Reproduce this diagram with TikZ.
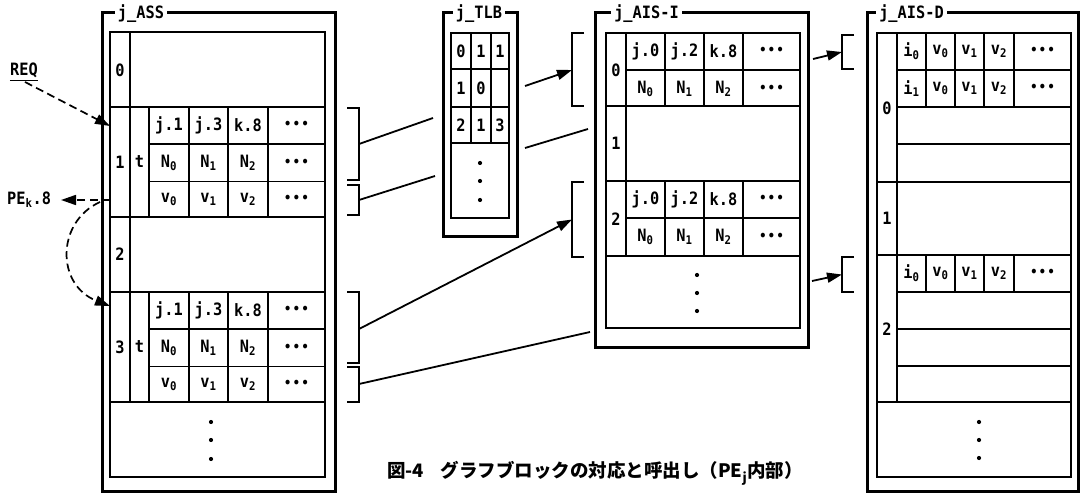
\documentclass[tikz,border=0pt]{standalone}
\usepackage{fontspec}
\setmainfont{DejaVu Sans Mono}[FakeStretch=0.9]
\newfontfamily\cjk{Noto Sans CJK JP}
\usetikzlibrary{arrows.meta}
\newcommand\sbs[1]{\textsubscript{#1}}
\newcommand\hdts{{\mdseries\fontsize{16}{16}\selectfont •••}}
\tikzset{
  outerframe/.style={line width=3pt, line join=miter},
  tbl/.style={line width=1.8pt},
  cellline/.style={line width=1.1pt},
  conn/.style={line width=1.8pt},
  dconn/.style={line width=1.7pt, dash pattern=on 8pt off 4.5pt},
  tip/.style={-{Triangle[length=15pt,width=10pt]}},
  txt/.style={inner sep=0pt, font=\bfseries\fontsize{17}{17}\selectfont},
  frlabel/.style={fill=white, inner sep=3pt, font=\bfseries\fontsize{17}{17}\selectfont},
  vdot/.style={circle, fill, inner sep=0pt, minimum size=4.2pt},
}
\begin{document}
\begin{tikzpicture}[x=1pt,y=-1pt]
\useasboundingbox (0,0) rectangle (1084,494);

% ---------------- j_ASS ----------------
\draw[outerframe] (102,13) rectangle (335,491);
\node[frlabel] (assL) at (141,14) {j\_ASS};
\draw[tbl] (110,32) rectangle (325,477);
\foreach \y in {107,217,292,402} \draw[tbl] (110,\y) -- (325,\y);
\draw[tbl] (130,32) -- (130,402);
\foreach \t in {107,292} {
  \draw[tbl] (149,\t) -- (149,{\t+110});
  \draw[cellline] (149,{\t+37}) -- (325,{\t+37});
  \draw[cellline] (149,{\t+74.5}) -- (325,{\t+74.5});
  \foreach \x in {189,228,268} \draw[cellline] (\x,\t) -- (\x,{\t+110});
}
\node[txt] (ass0) at (120,70) {0};
\node[txt] (ass1) at (120,162) {1};
\node[txt] (ass2) at (120,254) {2};
\node[txt] (ass3) at (120,347) {3};
\node[txt] (asst1) at (139.5,162) {t};
\node[txt] (asst3) at (139.5,347) {t};
\foreach \t/\r in {107/a,292/b} {
  \foreach \dy/\p/\q/\s [count=\k] in {18.5/j.1/j.3/k.8, 56/N\sbs{0}/N\sbs{1}/N\sbs{2}, 92.5/v\sbs{0}/v\sbs{1}/v\sbs{2}} {
    \node[txt] (ass\r\k-1) at (169,{\t+\dy}) {\p};
    \node[txt] (ass\r\k-2) at (208.5,{\t+\dy}) {\q};
    \node[txt] (ass\r\k-3) at (248,{\t+\dy}) {\s};
    \node[txt] (ass\r\k-4) at (296.5,{\t+\dy}) {\hdts};
  }
}
\foreach \y [count=\k] in {422,440,459} \node[vdot] (assdot\k) at (211,\y) {};

% brackets right of j_ASS
\draw[conn] (347,108) -- (359,108) -- (359,180) -- (347,180);
\draw[conn] (347,185) -- (359,185) -- (359,215) -- (347,215);
\draw[conn] (347,292) -- (359,292) -- (359,363) -- (347,363);
\draw[conn] (347,367) -- (359,367) -- (359,402) -- (347,402);
\coordinate (b1) at (359,144);
\coordinate (b2) at (359,200);
\coordinate (b3) at (359,329);
\coordinate (b4) at (359,384);

% ---------------- j_TLB ----------------
\draw[outerframe] (443,13) rectangle (517,237);
\node[frlabel] (tlbL) at (479,14) {j\_TLB};
\draw[tbl] (451,33) rectangle (509,218);
\foreach \y in {69,107,143} \draw[tbl] (451,\y) -- (509,\y);
\foreach \x in {471,491} \draw[tbl] (\x,33) -- (\x,143);
\node[txt] (tlb11) at (461,51) {0};
\node[txt] (tlb12) at (481,51) {1};
\node[txt] (tlb13) at (500,51) {1};
\node[txt] (tlb21) at (461,88) {1};
\node[txt] (tlb22) at (481,88) {0};
\node[txt] (tlb31) at (461,125) {2};
\node[txt] (tlb32) at (481,125) {1};
\node[txt] (tlb33) at (500,125) {3};
\foreach \y [count=\k] in {163,181,200} \node[vdot] (tlbdot\k) at (480,\y) {};
\coordinate (tlbin1) at (433,118);
\coordinate (tlbin2) at (435,176);
\coordinate (tlbout1) at (525,86);
\coordinate (tlbout2) at (525,148);

% ---------------- j_AIS-I ----------------
\draw[outerframe] (595,13) rectangle (808,347);
\node[frlabel] (aisiL) at (646.5,14) {j\_AIS-I};
\draw[tbl] (606,33) rectangle (800,328);
\foreach \y in {106,181,256} \draw[tbl] (606,\y) -- (800,\y);
\draw[tbl] (626,33) -- (626,256);
\foreach \t in {33,181} {
  \draw[cellline] (626,{\t+37}) -- (800,{\t+37});
  \foreach \x in {665,704,743} \draw[cellline] (\x,\t) -- (\x,{\t+74});
}
\node[txt] (aisi0) at (616,70) {0};
\node[txt] (aisi1) at (616,143.5) {1};
\node[txt] (aisi2) at (616,219) {2};
\foreach \t/\r in {33/a,181/b} {
  \foreach \dy/\p/\q/\s [count=\k] in {18.5/j.0/j.2/k.8, 56/N\sbs{0}/N\sbs{1}/N\sbs{2}} {
    \node[txt] (aisi\r\k-1) at (645.5,{\t+\dy}) {\p};
    \node[txt] (aisi\r\k-2) at (684.5,{\t+\dy}) {\q};
    \node[txt] (aisi\r\k-3) at (723.5,{\t+\dy}) {\s};
    \node[txt] (aisi\r\k-4) at (771.5,{\t+\dy}) {\hdts};
  }
}
\foreach \y [count=\k] in {275,293,311} \node[vdot] (aisidot\k) at (697,\y) {};
% brackets left of j_AIS-I
\draw[conn] (584,33) -- (572,33) -- (572,106) -- (584,106);
\draw[conn] (584,182) -- (572,182) -- (572,257) -- (584,257);
\coordinate (b5) at (572,70);
\coordinate (b6) at (572,219.5);
\coordinate (aisin1) at (588,129);
\coordinate (aisin2) at (590,332);
\coordinate (aisout1) at (813,59);
\coordinate (aisout2) at (812,281);

% ---------------- j_AIS-D ----------------
\draw[outerframe] (867,13) rectangle (1078,491);
\node[frlabel] (aisdL) at (911.5,14) {j\_AIS-D};
\draw[tbl] (877,33) rectangle (1071,477);
\foreach \y in {182,255,402} \draw[tbl] (877,\y) -- (1071,\y);
\draw[tbl] (897,33) -- (897,402);
\foreach \y in {70,107,144,292,329,366} \draw[cellline] (897,\y) -- (1071,\y);
\foreach \x in {926,955,984,1014} {
  \draw[cellline] (\x,33) -- (\x,107);
  \draw[cellline] (\x,255) -- (\x,292);
}
\node[txt] (aisd0) at (887,108) {0};
\node[txt] (aisd1) at (887,218.5) {1};
\node[txt] (aisd2) at (887,329) {2};
\foreach \y/\i [count=\k] in {51.5/i\sbs{0}, 88.5/i\sbs{1}, 273.5/i\sbs{0}} {
  \node[txt] (aisd\k-1) at (911.5,\y) {\i};
  \node[txt] (aisd\k-2) at (940.5,\y) {v\sbs{0}};
  \node[txt] (aisd\k-3) at (969.5,\y) {v\sbs{1}};
  \node[txt] (aisd\k-4) at (999,\y) {v\sbs{2}};
  \node[txt] (aisd\k-5) at (1042.5,\y) {\hdts};
}
\foreach \y [count=\k] in {422,440,458} \node[vdot] (aisddot\k) at (979,\y) {};
% brackets left of j_AIS-D
\draw[conn] (854,35) -- (842,35) -- (842,69) -- (854,69);
\draw[conn] (854,257) -- (842,257) -- (842,292) -- (854,292);
\coordinate (b7) at (842,52);
\coordinate (b8) at (842,274.5);

% ---------------- connectors ----------------
\draw[conn] (b1) -- (tlbin1);
\draw[conn] (b2) -- (tlbin2);
\draw[conn,tip] (b3) -- (b6);
\draw[conn] (b4) -- (aisin2);
\draw[conn,tip] (tlbout1) -- (b5);
\draw[conn] (tlbout2) -- (aisin1);
\draw[conn,tip] (aisout1) -- (b7);
\draw[conn,tip] (aisout2) -- (b8);

% ---------------- left side ----------------
\node[txt] (req) at (24,70) {REQ};
\draw[line width=1.3pt] ([yshift=-3pt]req.south west) -- ([yshift=-3pt]req.south east);
\coordinate (reqst) at (25,82);
\coordinate (reqend) at (110,126);
\draw[dconn,tip] (reqst) -- (reqend);
\node[txt, anchor=west] (pe) at (7,200) {PE\sbs{k}.8};
\coordinate (pest) at (110,200);
\coordinate (petip) at (61,200);
\draw[dconn,tip] (pest) -- (petip);
\coordinate (cst) at (100,202);
\coordinate (cend) at (110,306);
\draw[dconn,tip] (cst) .. controls (56,222) and (56,285) .. (cend);

% ---------------- caption ----------------
\node[anchor=west, inner sep=0pt, font=\cjk\bfseries\fontsize{18.5}{18.5}\selectfont] (cap) at (387,473)
  {図-4\hspace{0.9em}グラフブロックの対応と呼出し（PE\textsubscript{j}内部）};
\end{tikzpicture}
\end{document}
